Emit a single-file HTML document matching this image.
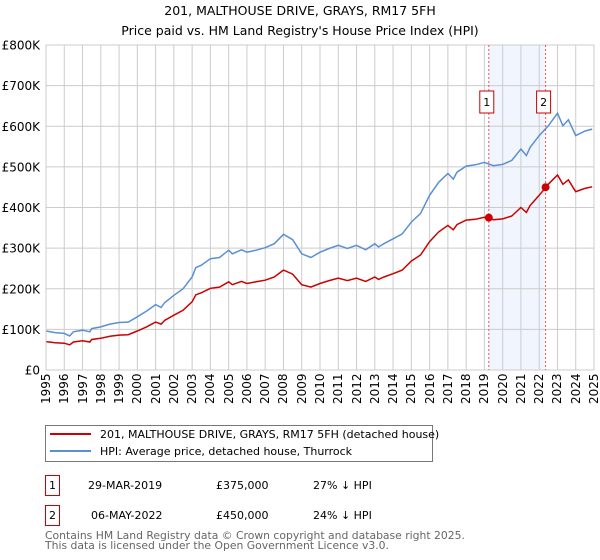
<!DOCTYPE html>
<html><head><meta charset="utf-8"><style>
body{margin:0;background:#fff;font-family:"DejaVu Sans","Liberation Sans",sans-serif;}
#wrap{position:relative;width:600px;height:560px;overflow:hidden;}
.yr{position:absolute;top:374px;width:14px;height:30px;font-size:12px;line-height:14px;writing-mode:vertical-rl;transform:rotate(180deg);text-align:right;white-space:nowrap;color:#000;}
</style></head><body>
<div id="wrap">
<svg width="600" height="560" xmlns="http://www.w3.org/2000/svg" font-family="DejaVu Sans, Liberation Sans, sans-serif" style="position:absolute;left:0;top:0">
<text x="300" y="15" text-anchor="middle" font-size="12.5">201, MALTHOUSE DRIVE, GRAYS, RM17 5FH</text>
<text x="300" y="35" text-anchor="middle" font-size="12.5">Price paid vs. HM Land Registry's House Price Index (HPI)</text>
<g id="plot"></g>
<g>
<rect x="45.5" y="425.5" width="387" height="36" fill="#fff" stroke="#777"/>
<line x1="50" y1="434" x2="91" y2="434" stroke="#cc0000" stroke-width="2"/>
<text x="100" y="438" font-size="11">201, MALTHOUSE DRIVE, GRAYS, RM17 5FH (detached house)</text>
<line x1="50" y1="451" x2="91" y2="451" stroke="#5b8fd4" stroke-width="2"/>
<text x="100" y="455" font-size="11">HPI: Average price, detached house, Thurrock</text>
</g>
<g font-size="11">
<rect x="45.5" y="475.5" width="14" height="20" fill="#fff" stroke="#cc0000"/><text x="52.5" y="489" text-anchor="middle">1</text>
<text x="88" y="489">29-MAR-2019</text><text x="216" y="489">£375,000</text><text x="313" y="489">27% ↓ HPI</text>
<rect x="45.5" y="505.5" width="14" height="20" fill="#fff" stroke="#cc0000"/><text x="52.5" y="519" text-anchor="middle">2</text>
<text x="91" y="519">06-MAY-2022</text><text x="216" y="519">£450,000</text><text x="313" y="519">24% ↓ HPI</text>
</g>
<text x="45" y="539" font-size="10.8" fill="#666">Contains HM Land Registry data © Crown copyright and database right 2025.</text>
<text x="45" y="549" font-size="10.8" fill="#666">This data is licensed under the Open Government Licence v3.0.</text>
</svg>
<div id="xlabels"></div>
</div>
<script>
const times=[1995.0,1995.5,1996.0,1996.3,1996.5,1997.0,1997.4,1997.5,1998.0,1998.5,1999.0,1999.5,2000.0,2000.5,2001.0,2001.3,2001.5,2002.0,2002.5,2003.0,2003.2,2003.5,2004.0,2004.5,2005.0,2005.2,2005.7,2006.0,2006.5,2007.0,2007.5,2008.0,2008.5,2009.0,2009.5,2010.0,2010.5,2011.0,2011.5,2012.0,2012.5,2013.0,2013.2,2013.5,2014.0,2014.5,2015.0,2015.5,2016.0,2016.5,2017.0,2017.3,2017.5,2018.0,2018.5,2019.0,2019.5,2020.0,2020.5,2021.0,2021.3,2021.5,2022.0,2022.5,2023.0,2023.3,2023.6,2024.0,2024.5,2024.9];
const hpi=[96,92,90,84,94,98,94,102,106,113,117,118,131,145,161,154,166,184,200,229,252,258,274,277,295,286,296,290,295,301,311,334,321,286,277,290,299,307,299,307,296,311,303,311,323,335,364,385,430,462,484,470,487,502,505,511,503,506,516,544,528,548,577,601,632,601,616,577,588,593];
const price=[70,67,66,62,69,72,69,75,78,83,86,87,96,106,118,113,122,135,147,168,185,190,201,204,217,210,218,213,217,221,229,246,236,210,204,213,220,226,220,226,218,229,223,229,237,246,268,283,316,340,356,345,358,369,371,376,370,372,379,400,388,405,430,457,480,457,468,439,447,451];
const yTicks=[0,100,200,300,400,500,600,700,800];
const yLabels=["£0","£100K","£200K","£300K","£400K","£500K","£600K","£700K","£800K"];
const years=[];for(let y=1995;y<=2025;y++)years.push(y);
const sales=[{t:2019.24,v:375,label:"1"},{t:2022.35,v:450,label:"2"}];
const X0=46,X1=594,Y0=370,Y1=45;
const xs=t=>X0+(t-1995)/30*(X1-X0);
const ys=v=>Y0-v/800*(Y0-Y1);
const NS="http://www.w3.org/2000/svg";
const g=document.getElementById('plot');
const xl=document.getElementById('xlabels');
function mk(tag,attrs,parent){const e=document.createElementNS(NS,tag);for(const k in attrs)e.setAttribute(k,attrs[k]);(parent||g).appendChild(e);return e;}
const shade=mk('rect',{x:xs(sales[0].t),y:Y1,width:xs(sales[1].t)-xs(sales[0].t),height:Y0-Y1,fill:'#eef3fc',opacity:0.8});


years.forEach(y=>{const l=mk('line',{x1:xs(y),x2:xs(y),y1:Y1,y2:Y0,stroke:'#ccc'});


const d=document.createElement('div');
d.className='yr';
d.style.left=(xs(y)-7)+'px';
d.textContent=y;


xl.appendChild(d);});
yTicks.forEach((v,i)=>{const l=mk('line',{x1:X0,x2:X1,y1:ys(v),y2:ys(v),stroke:'#ccc'});


const tx=mk('text',{x:40,y:ys(v)+4.5,'font-size':12,'text-anchor':'end'});tx.textContent=yLabels[i];

});
sales.forEach(s=>{const l=mk('line',{x1:xs(s.t),x2:xs(s.t),y1:Y1,y2:Y0,stroke:'#e55',"stroke-dasharray":"2,2"});

});
function path(arr,color,name){const d=arr.map((v,i)=>(i?'L':'M')+xs(times[i]).toFixed(1)+','+ys(v).toFixed(1)).join('');
const p=mk('path',{d:d,fill:'none',stroke:color,'stroke-width':1.5});

}
path(hpi,'#5b8fd4','hpi-line');
path(price,'#cc0000','price-paid-line');
sales.forEach(s=>{const c=mk('circle',{cx:xs(s.t),cy:ys(s.v),r:4,fill:'#cc0000'});


const r=mk('rect',{x:xs(s.t)-9,y:91,width:14,height:22,fill:'#fff',stroke:'#cc0000'});


const t=mk('text',{x:xs(s.t)-2,y:106,'font-size':11,'text-anchor':'middle'});t.textContent=s.label;

});
mk('line',{x1:X0,x2:X0,y1:Y1,y2:Y0,stroke:'#ccc'});
</script>
</body></html>
